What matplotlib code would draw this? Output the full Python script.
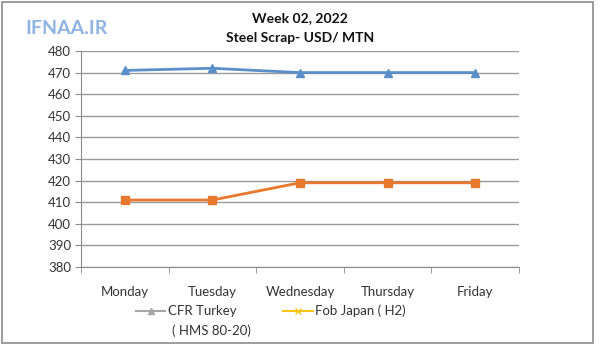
import numpy as np
import matplotlib.pyplot as plt
from matplotlib.lines import Line2D
from matplotlib.patches import Rectangle

days = ["Monday", "Tuesday", "Wednesday", "Thursday", "Friday"]
cfr_turkey = [471, 472, 470, 470, 470]
fob_japan = [411, 411, 419, 419, 419]
y_ticks = np.arange(380, 481, 10)

plt.rcParams['font.family'] = ['Lato', 'DejaVu Sans']

fig = plt.figure(figsize=(6, 3.51), dpi=100)
fig.patch.set_facecolor("white")

# outer frame
fig.patches.append(Rectangle((2 / 600, 1 - 343 / 351), 591 / 600, 341 / 351,
                             transform=fig.transFigure, fill=False,
                             edgecolor="#8c8c8c", linewidth=1.2))

ax = fig.add_axes([81 / 600, 1 - 267 / 351, 438 / 600, 216 / 351])
x = np.arange(len(days))

ax.plot(x, cfr_turkey, color="#5b8fc9", linewidth=2, marker="^", markersize=6)
ax.plot(x, fob_japan, color="#e8782e", linewidth=2, marker="s", markersize=6)

ax.set_xlim(-0.5, len(days) - 0.5)
ax.set_ylim(380, 480)
ax.set_yticks(y_ticks)
ax.set_xticks(x)
ax.set_xticklabels(days, fontsize=9.5, color="#333333")
ax.set_xticks(np.arange(-0.5, len(days), 1), minor=True)
ax.tick_params(axis="x", which="major", length=0, pad=14)
ax.tick_params(axis="x", which="minor", length=4, color="#8c8c8c", direction="out")
ax.tick_params(axis="y", length=4, color="#8c8c8c", labelsize=9.5, labelcolor="#333333", pad=3)
ax.yaxis.grid(True, color="#9a9a9a", linewidth=1)
ax.set_axisbelow(True)
for s in ["top", "right"]:
    ax.spines[s].set_visible(False)
for s in ["left", "bottom"]:
    ax.spines[s].set_color("#8c8c8c")

fig.text(0.5, 1 - 18 / 351, "Week 02, 2022", ha="center", va="center",
         fontsize=10, fontweight="bold", color="#111111")
fig.text(0.5, 1 - 38 / 351, "Steel Scrap- USD/ MTN", ha="center", va="center",
         fontsize=10, fontweight="bold", color="#111111")
fig.text(25 / 600, 1 - 28 / 351, "IFNAA.IR", ha="left", va="center",
         fontsize=14, fontweight="bold", color="#8fb3e3")

# legend (drawn by hand, as in the original)
leg_y = 1 - 311 / 351
fig.add_artist(Line2D([136 / 600, 165 / 600], [leg_y, leg_y], color="#a6a6a6",
                      linewidth=1.5, transform=fig.transFigure))
fig.add_artist(Line2D([150.5 / 600], [leg_y], color="#a6a6a6", marker="^",
                      markersize=5, transform=fig.transFigure))
fig.text(168 / 600, leg_y, "CFR Turkey", ha="left", va="center",
         fontsize=9.5, color="#333333")
fig.text(172 / 600, 1 - 331 / 351, "( HMS 80-20)", ha="left", va="center",
         fontsize=9.5, color="#333333")
fig.add_artist(Line2D([283 / 600, 313 / 600], [leg_y, leg_y], color="#f5c518",
                      linewidth=1.5, transform=fig.transFigure))
fig.add_artist(Line2D([298 / 600], [leg_y], color="#f5c518", marker="x",
                      markersize=5, transform=fig.transFigure))
fig.text(315 / 600, leg_y, "Fob Japan ( H2)", ha="left", va="center",
         fontsize=9.5, color="#333333")

fig.savefig("out.png", dpi=100)
